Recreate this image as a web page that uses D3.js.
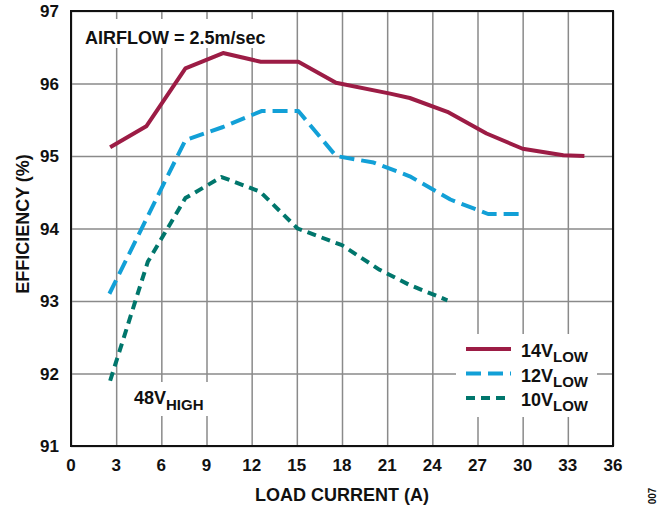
<html>
<head>
<style>
  body { margin: 0; background: #fff; }
  text { font-family: "Liberation Sans", Arial, sans-serif; font-weight: bold; fill: #111; }
  .grid line { stroke: #8a8a8a; stroke-width: 1.5; }
  .grid path { display: none; }
  .series { fill: none; stroke-width: 4; stroke-linejoin: round; }
</style>
</head>
<body>
<script src="https://cdn.jsdelivr.net/npm/d3@7"></script>
<script>
var width = 669, height = 507;
var plotL = 71, plotR = 613, plotT = 11, plotB = 446;

var xTicks = [0, 3, 6, 9, 12, 15, 18, 21, 24, 27, 30, 33, 36];
var yTicks = [91, 92, 93, 94, 95, 96, 97];

// 14V LOW
var x14 = [2.6, 5, 7.6, 10.1, 12.6, 15.1, 17.6, 21.2, 22.5, 25, 27.6, 30, 32.7, 34.1];
var y14 = [95.12, 95.41, 96.21, 96.42, 96.3, 96.3, 96.01, 95.86, 95.8, 95.61, 95.31, 95.1, 95.01, 95.0];
// 12V LOW
var x12 = [2.55, 7.6, 10.1, 12.65, 15.1, 17.6, 20.1, 22.5, 25.2, 27.7, 30.1];
var y12 = [93.1, 95.22, 95.4, 95.62, 95.62, 95.0, 94.91, 94.72, 94.4, 94.2, 94.2];
// 10V LOW
var x10 = [2.6, 5.1, 7.6, 10.0, 12.55, 15.05, 18.0, 20.5, 22.5, 25.0];
var y10 = [91.9, 93.54, 94.42, 94.71, 94.51, 94.0, 93.77, 93.43, 93.22, 93.01];

var series = [
  {name: "14V", xs: x14, ys: y14, color: "#9c1c45", dash: null},
  {name: "12V", xs: x12, ys: y12, color: "#12a0d7", dash: "15,7"},
  {name: "10V", xs: x10, ys: y10, color: "#00766c", dash: "9,6"}
];

var svg = d3.select("body").append("svg")
    .attr("width", width)
    .attr("height", height);

var x = d3.scaleLinear().domain([0, 36]).range([plotL, plotR]);
var y = d3.scaleLinear().domain([91, 97]).range([plotB, plotT]);

// grid
svg.append("g").attr("class", "grid")
   .attr("transform", "translate(0," + plotB + ")")
   .call(d3.axisBottom(x).tickValues(xTicks).tickSize(-(plotB - plotT)).tickFormat(""));
svg.append("g").attr("class", "grid")
   .attr("transform", "translate(" + plotL + ",0)")
   .call(d3.axisLeft(y).tickValues(yTicks).tickSize(-(plotR - plotL)).tickFormat(""));

// white label boxes over the grid
svg.append("rect").attr("x", 76).attr("y", 19).attr("width", 200).attr("height", 29).attr("fill", "#fff");
svg.append("rect").attr("x", 456).attr("y", 334).attr("width", 141).attr("height", 83).attr("fill", "#fff");
svg.append("rect").attr("x", 122).attr("y", 382).attr("width", 96).attr("height", 34).attr("fill", "#fff");

// frame
svg.append("rect").attr("x", plotL).attr("y", plotT)
   .attr("width", plotR - plotL).attr("height", plotB - plotT)
   .attr("fill", "none").attr("stroke", "#111").attr("stroke-width", 2);

// tick labels
svg.append("g").selectAll("text").data(xTicks).enter().append("text")
   .attr("x", function(d){ return x(d); })
   .attr("y", 471)
   .attr("text-anchor", "middle")
   .attr("font-size", 17)
   .text(function(d){ return d; });
svg.append("g").selectAll("text").data(yTicks).enter().append("text")
   .attr("x", 59)
   .attr("y", function(d){ return y(d) + 6; })
   .attr("text-anchor", "end")
   .attr("font-size", 17)
   .text(function(d){ return d; });

// axis titles
svg.append("text").attr("x", 342).attr("y", 501)
   .attr("text-anchor", "middle").attr("font-size", 18)
   .text("LOAD CURRENT (A)");
svg.append("text").attr("transform", "translate(29,224) rotate(-90)")
   .attr("text-anchor", "middle").attr("font-size", 18)
   .text("EFFICIENCY (%)");
svg.append("text").attr("transform", "translate(656,496) rotate(-90)")
   .attr("text-anchor", "middle").attr("font-size", 10).attr("font-weight", "normal")
   .text("007");

// curves
var line = d3.line().x(function(d){ return x(d[0]); }).y(function(d){ return y(d[1]); });
series.forEach(function(s){
  var pts = d3.zip(s.xs, s.ys);
  svg.append("path").attr("class", "series")
     .attr("d", line(pts))
     .attr("stroke", s.color)
     .attr("stroke-dasharray", s.dash);
});

// annotations
svg.append("text").attr("x", 85).attr("y", 44).attr("font-size", 18)
   .text("AIRFLOW = 2.5m/sec");
var t48 = svg.append("text").attr("x", 134).attr("y", 404).attr("font-size", 18);
t48.append("tspan").text("48V");
t48.append("tspan").attr("font-size", 15).attr("dy", 6).text("HIGH");

// legend
series.forEach(function(s, i){
  var ly = 349 + i * 24.5;
  svg.append("line").attr("x1", 466).attr("x2", 511).attr("y1", ly).attr("y2", ly)
     .attr("stroke", s.color).attr("stroke-width", 4)
     .attr("stroke-dasharray", s.dash);
  var t = svg.append("text").attr("x", 521).attr("y", ly + 8).attr("font-size", 18);
  t.append("tspan").text(s.name);
  t.append("tspan").attr("font-size", 15).attr("dy", 5).text("LOW");
});
</script>
</body>
</html>
